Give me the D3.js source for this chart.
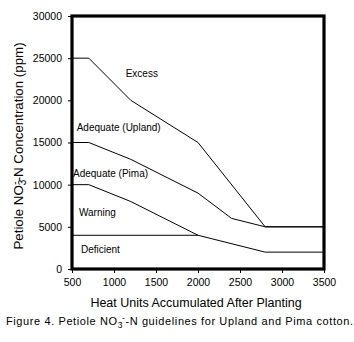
<!DOCTYPE html>
<html><head><meta charset="utf-8">
<script src="https://cdn.jsdelivr.net/npm/d3@7"></script>
<style>body{margin:0;background:#fff}svg{display:block}text{font-family:"Liberation Sans",Arial,sans-serif;fill:#000}</style>
</head><body>
<svg id="c" width="354" height="342"></svg>
<script>
const xTicks = [500,1000,1500,2000,2500,3000,3500];
const yTicks = [0,5000,10000,15000,20000,25000,30000];
const excessLine = [[500,25000],[700,25000],[1200,20000],[2000,15000],[2800,5000],[3500,5000]];
const uplandLine = [[500,15000],[700,15000],[1200,13000],[2000,9000],[2400,6000],[2800,5000],[3500,5000]];
const pimaLine = [[500,10000],[700,10000],[1200,8000],[2000,4000],[2800,2000],[3500,2000]];
const deficientLine = [[500,4000],[2000,4000]];
const zoneLabels = ["Excess","Adequate (Upland)","Adequate (Pima)","Warning","Deficient"];
const zonePos = [[1139,22770],[556,16360],[512,10910],[583,6320],[607,1930]];

const svg = d3.select("#c");
const L=72,R=324,T=16,B=269;
const x = d3.scaleLinear().domain([500,3500]).range([L,R]);
const y = d3.scaleLinear().domain([0,30000]).range([B,T]);

const line = d3.line().x(d=>x(d[0])).y(d=>y(d[1]));
[excessLine,uplandLine,pimaLine,deficientLine].forEach(s=>{
  svg.append("path").attr("d",line(s)).attr("fill","none").attr("stroke","#000").attr("stroke-width",1);
});

const gx = svg.append("g").attr("transform",`translate(0,${B})`)
  .call(d3.axisBottom(x).tickValues(xTicks).tickSize(4).tickFormat(d3.format("d")));
const gy = svg.append("g").attr("transform",`translate(${L},0)`)
  .call(d3.axisLeft(y).tickValues(yTicks).tickSize(4).tickFormat(d3.format("d")));
[gx,gy].forEach(g=>{
  g.select(".domain").remove();
  g.selectAll("line").attr("stroke","#000");
  g.selectAll("text").style("font-size","10.5px").attr("fill","#000");
});
gx.selectAll("text").attr("y",10).attr("dy","0.71em");
gy.selectAll("text").attr("x",-10);

svg.append("rect").attr("x",L).attr("y",T).attr("width",R-L).attr("height",B-T)
  .attr("fill","none").attr("stroke","#000").attr("stroke-width",3.2);

zoneLabels.forEach((t,i)=>{
  svg.append("text").attr("x",x(zonePos[i][0])).attr("y",y(zonePos[i][1]))
    .style("font-size","10px").text(t);
});

svg.append("text").attr("x",196).attr("y",307).attr("text-anchor","middle")
  .style("font-size","12.5px").text("Heat Units Accumulated After Planting");

const yt = svg.append("text").attr("transform","translate(22.5,146) rotate(-90)")
  .attr("text-anchor","middle").style("font-size","13.3px");
yt.append("tspan").text("Petiole NO");
yt.append("tspan").attr("dy",3).style("font-size","10px").text("3");
yt.append("tspan").attr("dy",-8).attr("dx",-5).style("font-size","10px").text("-");
yt.append("tspan").attr("dy",5).text("-N Concentration (ppm)");

const cap = svg.append("text").attr("x",6).attr("y",325).style("font-size","11px").style("letter-spacing","0.6px");
cap.append("tspan").text("Figure 4.  Petiole NO");
cap.append("tspan").attr("dy",3).style("font-size","8.5px").text("3");
cap.append("tspan").attr("dy",-7).attr("dx",-1).style("font-size","8.5px").text("-");
cap.append("tspan").attr("dy",4).text("-N guidelines for Upland and Pima cotton.");
</script>
</body></html>
